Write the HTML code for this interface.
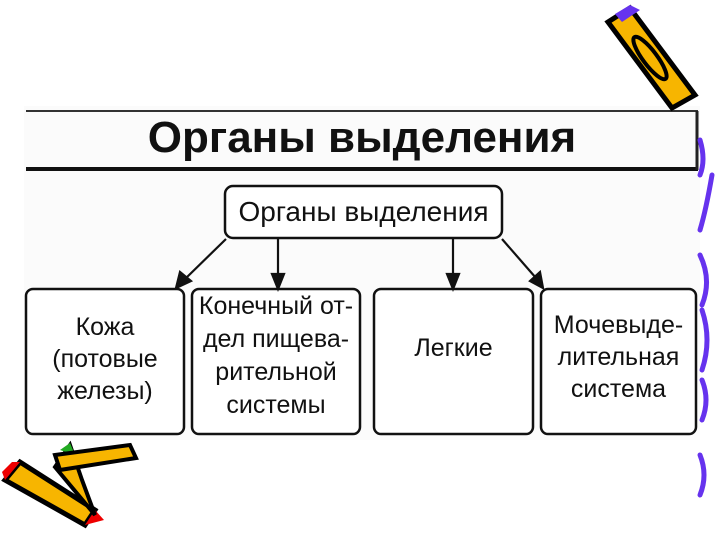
<!DOCTYPE html>
<html><head><meta charset="utf-8"><style>
body{margin:0;width:720px;height:540px;background:#fff;overflow:hidden;position:relative;font-family:"Liberation Sans",sans-serif}
.t{position:absolute;text-align:center;color:#111;white-space:nowrap}
</style></head><body>
<svg width="720" height="540" style="position:absolute;left:0;top:0">
<rect x="24" y="106" width="676" height="334" fill="#fbfbfb"/>
<line x1="26" y1="111" x2="698" y2="111" stroke="#333" stroke-width="2"/>
<line x1="26" y1="169" x2="698" y2="169" stroke="#111" stroke-width="4"/>
<line x1="697" y1="111" x2="697" y2="170" stroke="#222" stroke-width="3"/>
<rect x="225" y="186" width="277" height="52" rx="8" fill="#fff" stroke="#111" stroke-width="2.5"/>
<rect x="26" y="289" width="158" height="145" rx="7" fill="#fff" stroke="#111" stroke-width="2.5"/>
<rect x="192" y="289" width="168" height="145" rx="7" fill="#fff" stroke="#111" stroke-width="2.5"/>
<rect x="374" y="289" width="159" height="145" rx="7" fill="#fff" stroke="#111" stroke-width="2.5"/>
<rect x="541" y="289" width="155" height="145" rx="7" fill="#fff" stroke="#111" stroke-width="2.5"/>
<g stroke="#111" stroke-width="2.2" fill="#111">
<line x1="226" y1="239" x2="184" y2="280"/><polygon points="176,288 180,272 191,281"/>
<line x1="278" y1="239" x2="278" y2="277"/><polygon points="278,289 272,274 284,274"/>
<line x1="453" y1="239" x2="453" y2="277"/><polygon points="453,289 447,274 459,274"/>
<line x1="502" y1="239" x2="536" y2="278"/><polygon points="543,288 530,281 540,272"/>
</g>
<g fill="none" stroke="#6633ee" stroke-width="5" stroke-linecap="round">
<path d="M700 140 Q706 160 700 175"/><path d="M712 175 Q706 210 700 230"/>
<path d="M700 255 Q712 280 702 305"/><path d="M702 310 Q712 340 702 370"/>
<path d="M702 380 Q710 400 702 420"/><path d="M700 455 Q708 475 700 495"/>
</g>
<g>
<polygon points="608,22 630,8 695,95 672,108" fill="#f7b500" stroke="#000" stroke-width="5"/>
<ellipse cx="650" cy="58" rx="7" ry="26" transform="rotate(-37 650 58)" fill="none" stroke="#000" stroke-width="4"/>
<polygon points="615,14 630,5 640,10 622,22" fill="#6633ee"/>
</g>
<g>
<polygon points="5,480 20,462 95,510 85,525" fill="#f7b500" stroke="#000" stroke-width="5"/>
<polygon points="5,480 20,462 12,462 2,472" fill="#e00"/>
<polygon points="85,525 95,510 104,520" fill="#e00"/>
<polygon points="55,467 70,445 82,480 95,515" fill="#f7b500" stroke="#000" stroke-width="4"/>
<polygon points="60,450 70,443 75,455" fill="#2a2"/>
<polygon points="55,455 130,445 136,458 60,470" fill="#f7b500" stroke="#000" stroke-width="4"/>
</g>
</svg>
<div class="t" style="left:26px;width:672px;top:112px;font-size:44px;font-weight:bold;line-height:52px">Органы выделения</div>
<div class="t" style="left:225px;width:277px;top:192px;font-size:28px;line-height:40px">Органы выделения</div>
<div class="t" style="left:26px;width:158px;top:311px;font-size:25px;line-height:32px">Кожа<br>(потовые<br>железы)</div>
<div class="t" style="left:188px;width:176px;top:290px;font-size:25px;line-height:33px">Конечный от-<br>дел пищева-<br>рительной<br>системы</div>
<div class="t" style="left:374px;width:159px;top:332px;font-size:25px;line-height:32px">Легкие</div>
<div class="t" style="left:541px;width:155px;top:309px;font-size:25px;line-height:32px">Мочевыде-<br>лительная<br>система</div>
</body></html>
